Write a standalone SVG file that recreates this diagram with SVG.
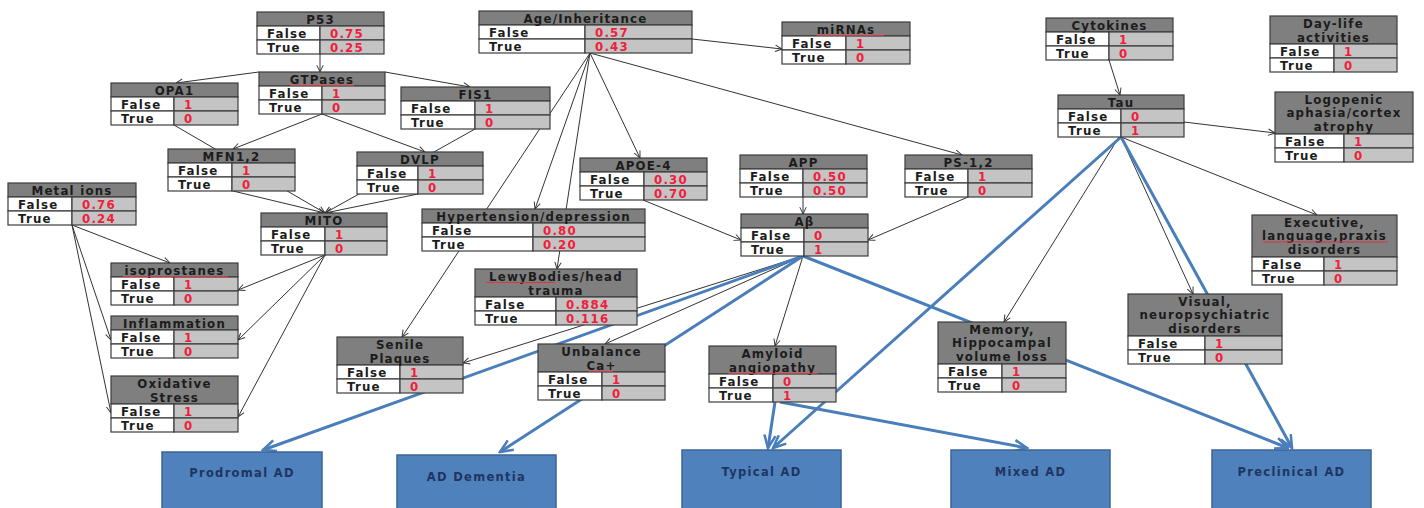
<svg xmlns="http://www.w3.org/2000/svg" width="1424" height="508" viewBox="0 0 1424 508">
<defs>
<style>
.hd{fill:#7f7f7f;stroke:#3c3c3c;stroke-width:1.2}
.lc{fill:#ffffff;stroke:#3c3c3c;stroke-width:1.2}
.rc{fill:#c4c4c4;stroke:#3c3c3c;stroke-width:1.2}
text{font-family:"DejaVu Sans","Liberation Sans",sans-serif;font-weight:bold;font-size:11.8px;letter-spacing:1.2px}
.t{fill:#1c1c1c;text-anchor:middle}
.s{fill:#1c1c1c}
.v{fill:#f0203c}
.e{fill:none;stroke:#333333;stroke-width:1;marker-end:url(#ah)}
.b{fill:none;stroke:#4a7ebb;stroke-width:3;marker-end:url(#bh)}
.ob{fill:#4f81bd;stroke:#3b6496;stroke-width:1.5}
.ot{fill:#1f3560;text-anchor:middle;font-size:11.5px;letter-spacing:1.3px}
.sq{fill:none;stroke:#dd3344;stroke-width:1}
</style>
<marker id="ah" viewBox="0 0 10 10" refX="9.5" refY="5" markerWidth="8" markerHeight="8" markerUnits="userSpaceOnUse" orient="auto">
<path d="M1,1 L9.5,5 L1,9" fill="none" stroke="#333333" stroke-width="1.2"/>
</marker>
<marker id="bh" viewBox="0 0 10 10" refX="9" refY="5" markerWidth="16" markerHeight="16" markerUnits="userSpaceOnUse" orient="auto">
<path d="M1,1.5 L9,5 L1,8.5" fill="none" stroke="#4a7ebb" stroke-width="1.6"/>
</marker>
</defs>
<rect x="0" y="0" width="1424" height="508" fill="#ffffff"/>

<!-- connectors (drawn first so the tables sit on top) -->
<g id="connectors">
<path class="e" d="M320,54 L320,72"/>
<path class="e" d="M259,72 L176,83"/>
<path class="e" d="M385,72 L470,87"/>
<path class="e" d="M322,114 L233,149"/>
<path class="e" d="M322,114 L425,152"/>
<path class="e" d="M174,125 L325,213"/>
<path class="e" d="M475,129 L325,213"/>
<path class="e" d="M233,191 L325,213"/>
<path class="e" d="M418,194 L325,213"/>
<path class="e" d="M72,225 L170,263"/>
<path class="e" d="M72,225 L111,340"/>
<path class="e" d="M72,225 L111,413"/>
<path class="e" d="M325,255 L238,290"/>
<path class="e" d="M325,255 L238,340"/>
<path class="e" d="M325,255 L238,417"/>
<path class="e" d="M692,39 L782,49"/>
<path class="e" d="M590,53 L962,155"/>
<path class="e" d="M590,53 L640,158"/>
<path class="e" d="M590,53 L535,209"/>
<path class="e" d="M590,53 L402,337"/>
<path class="e" d="M590,53 L557,269"/>
<path class="e" d="M643,200 L741,240"/>
<path class="e" d="M803,197 L803,214"/>
<path class="e" d="M968,197 L868,240"/>
<path class="e" d="M803,256 L775,346"/>
<path class="e" d="M803,256 L605,344"/>
<path class="e" d="M803,256 L463,363"/>
<path class="e" d="M1109,60 L1120,95"/>
<path class="e" d="M1184,122 L1275,133"/>
<path class="e" d="M1121,137 L1317,215"/>
<path class="e" d="M1121,137 L1193,294"/>
<path class="e" d="M1119,137 L1004,322"/>
<path class="b" d="M803,256 L263,450"/>
<path class="b" d="M803,256 L500,452"/>
<path class="b" d="M803,256 L1288,448"/>
<path class="b" d="M1121,137 L773,448"/>
<path class="b" d="M1121,137 L1292,448"/>
<path class="b" d="M775,402 L768,448"/>
<path class="b" d="M780,402 L1027,448"/>
</g>

<g id="p53">
<rect class="hd" x="257" y="12" width="127" height="14"/>
<rect class="lc" x="257" y="26" width="63" height="14"/><rect class="rc" x="320" y="26" width="64" height="14"/>
<rect class="lc" x="257" y="40" width="63" height="14"/><rect class="rc" x="320" y="40" width="64" height="14"/>
<text class="t" x="320.5" y="23.5">P53</text>
<text class="s" x="267" y="37.5">False</text><text class="v" x="330" y="37.5">0.75</text>
<text class="s" x="267" y="51.5">True</text><text class="v" x="330" y="51.5">0.25</text>
</g>

<g id="gtpases">
<rect class="hd" x="259" y="72" width="126" height="14"/>
<rect class="lc" x="259" y="86" width="63" height="14"/><rect class="rc" x="322" y="86" width="63" height="14"/>
<rect class="lc" x="259" y="100" width="63" height="14"/><rect class="rc" x="322" y="100" width="63" height="14"/>
<text class="t" x="322" y="83.5">GTPases</text>
<path class="sq" d="M290,85.5 L354,85.5"/>
<text class="s" x="269" y="97.5">False</text><text class="v" x="332" y="97.5">1</text>
<text class="s" x="269" y="111.5">True</text><text class="v" x="332" y="111.5">0</text>
</g>

<g id="opa1">
<rect class="hd" x="111" y="83" width="127" height="14"/>
<rect class="lc" x="111" y="97" width="63" height="14"/><rect class="rc" x="174" y="97" width="64" height="14"/>
<rect class="lc" x="111" y="111" width="63" height="14"/><rect class="rc" x="174" y="111" width="64" height="14"/>
<text class="t" x="174.5" y="94.5">OPA1</text>
<text class="s" x="121" y="108.5">False</text><text class="v" x="184" y="108.5">1</text>
<text class="s" x="121" y="122.5">True</text><text class="v" x="184" y="122.5">0</text>
</g>

<g id="fis1">
<rect class="hd" x="401" y="87" width="149" height="14"/>
<rect class="lc" x="401" y="101" width="74" height="14"/><rect class="rc" x="475" y="101" width="75" height="14"/>
<rect class="lc" x="401" y="115" width="74" height="14"/><rect class="rc" x="475" y="115" width="75" height="14"/>
<text class="t" x="475.5" y="98.5">FIS1</text>
<text class="s" x="411" y="112.5">False</text><text class="v" x="485" y="112.5">1</text>
<text class="s" x="411" y="126.5">True</text><text class="v" x="485" y="126.5">0</text>
</g>

<g id="mfn12">
<rect class="hd" x="168" y="149" width="127" height="14"/>
<rect class="lc" x="168" y="163" width="64" height="14"/><rect class="rc" x="232" y="163" width="63" height="14"/>
<rect class="lc" x="168" y="177" width="64" height="14"/><rect class="rc" x="232" y="177" width="63" height="14"/>
<text class="t" x="231.5" y="160.5">MFN1,2</text>
<text class="s" x="178" y="174.5">False</text><text class="v" x="242" y="174.5">1</text>
<text class="s" x="178" y="188.5">True</text><text class="v" x="242" y="188.5">0</text>
</g>

<g id="dvlp">
<rect class="hd" x="357" y="152" width="126" height="14"/>
<rect class="lc" x="357" y="166" width="61" height="14"/><rect class="rc" x="418" y="166" width="65" height="14"/>
<rect class="lc" x="357" y="180" width="61" height="14"/><rect class="rc" x="418" y="180" width="65" height="14"/>
<text class="t" x="420" y="163.5">DVLP</text>
<text class="s" x="367" y="177.5">False</text><text class="v" x="428" y="177.5">1</text>
<text class="s" x="367" y="191.5">True</text><text class="v" x="428" y="191.5">0</text>
</g>

<g id="mito">
<rect class="hd" x="261" y="213" width="126" height="14"/>
<rect class="lc" x="261" y="227" width="64" height="14"/><rect class="rc" x="325" y="227" width="62" height="14"/>
<rect class="lc" x="261" y="241" width="64" height="14"/><rect class="rc" x="325" y="241" width="62" height="14"/>
<text class="t" x="324" y="224.5">MITO</text>
<text class="s" x="271" y="238.5">False</text><text class="v" x="335" y="238.5">1</text>
<text class="s" x="271" y="252.5">True</text><text class="v" x="335" y="252.5">0</text>
</g>

<g id="metal-ions">
<rect class="hd" x="8" y="183" width="128" height="14"/>
<rect class="lc" x="8" y="197" width="64" height="14"/><rect class="rc" x="72" y="197" width="64" height="14"/>
<rect class="lc" x="8" y="211" width="64" height="14"/><rect class="rc" x="72" y="211" width="64" height="14"/>
<text class="t" x="72" y="194.5">Metal ions</text>
<text class="s" x="18" y="208.5">False</text><text class="v" x="82" y="208.5">0.76</text>
<text class="s" x="18" y="222.5">True</text><text class="v" x="82" y="222.5">0.24</text>
</g>

<g id="isoprostanes">
<rect class="hd" x="111" y="263" width="127" height="14"/>
<rect class="lc" x="111" y="277" width="63" height="14"/><rect class="rc" x="174" y="277" width="64" height="14"/>
<rect class="lc" x="111" y="291" width="63" height="14"/><rect class="rc" x="174" y="291" width="64" height="14"/>
<text class="t" x="174.5" y="274.5">isoprostanes</text>
<path class="sq" d="M123,276.5 L228,276.5"/>
<text class="s" x="121" y="288.5">False</text><text class="v" x="184" y="288.5">1</text>
<text class="s" x="121" y="302.5">True</text><text class="v" x="184" y="302.5">0</text>
</g>

<g id="inflammation">
<rect class="hd" x="111" y="316" width="127" height="14"/>
<rect class="lc" x="111" y="330" width="63" height="14"/><rect class="rc" x="174" y="330" width="64" height="14"/>
<rect class="lc" x="111" y="344" width="63" height="14"/><rect class="rc" x="174" y="344" width="64" height="14"/>
<text class="t" x="174.5" y="327.5">Inflammation</text>
<text class="s" x="121" y="341.5">False</text><text class="v" x="184" y="341.5">1</text>
<text class="s" x="121" y="355.5">True</text><text class="v" x="184" y="355.5">0</text>
</g>

<g id="oxidative-stress">
<rect class="hd" x="111" y="376" width="127" height="28"/>
<rect class="lc" x="111" y="404" width="63" height="14"/><rect class="rc" x="174" y="404" width="64" height="14"/>
<rect class="lc" x="111" y="418" width="63" height="14"/><rect class="rc" x="174" y="418" width="64" height="14"/>
<text class="t" x="174.5" y="387.5">Oxidative</text>
<text class="t" x="174.5" y="401.5">Stress</text>
<text class="s" x="121" y="415.5">False</text><text class="v" x="184" y="415.5">1</text>
<text class="s" x="121" y="429.5">True</text><text class="v" x="184" y="429.5">0</text>
</g>

<g id="age-inheritance">
<rect class="hd" x="479" y="11" width="213" height="14"/>
<rect class="lc" x="479" y="25" width="106" height="14"/><rect class="rc" x="585" y="25" width="107" height="14"/>
<rect class="lc" x="479" y="39" width="106" height="14"/><rect class="rc" x="585" y="39" width="107" height="14"/>
<text class="t" x="585.5" y="22.5">Age/Inheritance</text>
<text class="s" x="489" y="36.5">False</text><text class="v" x="595" y="36.5">0.57</text>
<text class="s" x="489" y="50.5">True</text><text class="v" x="595" y="50.5">0.43</text>
</g>

<g id="mirnas">
<rect class="hd" x="782" y="22" width="128" height="14"/>
<rect class="lc" x="782" y="36" width="64" height="14"/><rect class="rc" x="846" y="36" width="64" height="14"/>
<rect class="lc" x="782" y="50" width="64" height="14"/><rect class="rc" x="846" y="50" width="64" height="14"/>
<text class="t" x="846" y="33.5">miRNAs</text>
<path class="sq" d="M817,35.5 L884,35.5"/>
<text class="s" x="792" y="47.5">False</text><text class="v" x="856" y="47.5">1</text>
<text class="s" x="792" y="61.5">True</text><text class="v" x="856" y="61.5">0</text>
</g>

<g id="hypertension">
<rect class="hd" x="422" y="209" width="223" height="14"/>
<rect class="lc" x="422" y="223" width="111" height="14"/><rect class="rc" x="533" y="223" width="112" height="14"/>
<rect class="lc" x="422" y="237" width="111" height="14"/><rect class="rc" x="533" y="237" width="112" height="14"/>
<text class="t" x="533.5" y="220.5">Hypertension/depression</text>
<text class="s" x="432" y="234.5">False</text><text class="v" x="543" y="234.5">0.80</text>
<text class="s" x="432" y="248.5">True</text><text class="v" x="543" y="248.5">0.20</text>
</g>

<g id="lewybodies">
<rect class="hd" x="475" y="269" width="162" height="28"/>
<rect class="lc" x="475" y="297" width="81" height="14"/><rect class="rc" x="556" y="297" width="81" height="14"/>
<rect class="lc" x="475" y="311" width="81" height="14"/><rect class="rc" x="556" y="311" width="81" height="14"/>
<text class="t" x="556" y="280.5">LewyBodies/head</text>
<text class="t" x="556" y="294.5">trauma</text>
<path class="sq" d="M486,282.5 L555,282.5"/>
<text class="s" x="485" y="308.5">False</text><text class="v" x="566" y="308.5">0.884</text>
<text class="s" x="485" y="322.5">True</text><text class="v" x="566" y="322.5">0.116</text>
</g>

<g id="apoe4">
<rect class="hd" x="580" y="158" width="127" height="14"/>
<rect class="lc" x="580" y="172" width="64" height="14"/><rect class="rc" x="644" y="172" width="63" height="14"/>
<rect class="lc" x="580" y="186" width="64" height="14"/><rect class="rc" x="644" y="186" width="63" height="14"/>
<text class="t" x="643.5" y="169.5">APOE-4</text>
<text class="s" x="590" y="183.5">False</text><text class="v" x="654" y="183.5">0.30</text>
<text class="s" x="590" y="197.5">True</text><text class="v" x="654" y="197.5">0.70</text>
</g>

<g id="app">
<rect class="hd" x="740" y="155" width="127" height="14"/>
<rect class="lc" x="740" y="169" width="63" height="14"/><rect class="rc" x="803" y="169" width="64" height="14"/>
<rect class="lc" x="740" y="183" width="63" height="14"/><rect class="rc" x="803" y="183" width="64" height="14"/>
<text class="t" x="803.5" y="166.5">APP</text>
<text class="s" x="750" y="180.5">False</text><text class="v" x="813" y="180.5">0.50</text>
<text class="s" x="750" y="194.5">True</text><text class="v" x="813" y="194.5">0.50</text>
</g>

<g id="abeta">
<rect class="hd" x="741" y="214" width="127" height="14"/>
<rect class="lc" x="741" y="228" width="63" height="14"/><rect class="rc" x="804" y="228" width="64" height="14"/>
<rect class="lc" x="741" y="242" width="63" height="14"/><rect class="rc" x="804" y="242" width="64" height="14"/>
<text class="t" x="804.5" y="225.5">Aβ</text>
<text class="s" x="751" y="239.5">False</text><text class="v" x="814" y="239.5">0</text>
<text class="s" x="751" y="253.5">True</text><text class="v" x="814" y="253.5">1</text>
</g>

<g id="ps12">
<rect class="hd" x="905" y="155" width="127" height="14"/>
<rect class="lc" x="905" y="169" width="63" height="14"/><rect class="rc" x="968" y="169" width="64" height="14"/>
<rect class="lc" x="905" y="183" width="63" height="14"/><rect class="rc" x="968" y="183" width="64" height="14"/>
<text class="t" x="968.5" y="166.5">PS-1,2</text>
<text class="s" x="915" y="180.5">False</text><text class="v" x="978" y="180.5">1</text>
<text class="s" x="915" y="194.5">True</text><text class="v" x="978" y="194.5">0</text>
</g>

<g id="senile-plaques">
<rect class="hd" x="337" y="337" width="126" height="28"/>
<rect class="lc" x="337" y="365" width="63" height="14"/><rect class="rc" x="400" y="365" width="63" height="14"/>
<rect class="lc" x="337" y="379" width="63" height="14"/><rect class="rc" x="400" y="379" width="63" height="14"/>
<text class="t" x="400" y="348.5">Senile</text>
<text class="t" x="400" y="362.5">Plaques</text>
<text class="s" x="347" y="376.5">False</text><text class="v" x="410" y="376.5">1</text>
<text class="s" x="347" y="390.5">True</text><text class="v" x="410" y="390.5">0</text>
</g>

<g id="unbalance-ca">
<rect class="hd" x="538" y="344" width="127" height="28"/>
<rect class="lc" x="538" y="372" width="64" height="14"/><rect class="rc" x="602" y="372" width="63" height="14"/>
<rect class="lc" x="538" y="386" width="64" height="14"/><rect class="rc" x="602" y="386" width="63" height="14"/>
<text class="t" x="601.5" y="355.5">Unbalance</text>
<text class="t" x="601.5" y="369.5">Ca+</text>
<path class="sq" d="M589,371.5 L613,371.5"/>
<text class="s" x="548" y="383.5">False</text><text class="v" x="612" y="383.5">1</text>
<text class="s" x="548" y="397.5">True</text><text class="v" x="612" y="397.5">0</text>
</g>

<g id="amyloid-angiopathy">
<rect class="hd" x="709" y="346" width="127" height="28"/>
<rect class="lc" x="709" y="374" width="64" height="14"/><rect class="rc" x="773" y="374" width="63" height="14"/>
<rect class="lc" x="709" y="388" width="64" height="14"/><rect class="rc" x="773" y="388" width="63" height="14"/>
<text class="t" x="772.5" y="357.5">Amyloid</text>
<text class="t" x="772.5" y="371.5">angiopathy</text>
<path class="sq" d="M728,373.5 L818,373.5"/>
<text class="s" x="719" y="385.5">False</text><text class="v" x="783" y="385.5">0</text>
<text class="s" x="719" y="399.5">True</text><text class="v" x="783" y="399.5">1</text>
</g>

<g id="memory">
<rect class="hd" x="938" y="322" width="128" height="42"/>
<rect class="lc" x="938" y="364" width="64" height="14"/><rect class="rc" x="1002" y="364" width="64" height="14"/>
<rect class="lc" x="938" y="378" width="64" height="14"/><rect class="rc" x="1002" y="378" width="64" height="14"/>
<text class="t" x="1002" y="333.5">Memory,</text>
<text class="t" x="1002" y="347">Hippocampal</text>
<text class="t" x="1002" y="360.5">volume loss</text>
<text class="s" x="948" y="375.5">False</text><text class="v" x="1012" y="375.5">1</text>
<text class="s" x="948" y="389.5">True</text><text class="v" x="1012" y="389.5">0</text>
</g>

<g id="visual">
<rect class="hd" x="1128" y="294" width="154" height="42"/>
<rect class="lc" x="1128" y="336" width="77" height="14"/><rect class="rc" x="1205" y="336" width="77" height="14"/>
<rect class="lc" x="1128" y="350" width="77" height="14"/><rect class="rc" x="1205" y="350" width="77" height="14"/>
<text class="t" x="1205" y="305.5">Visual,</text>
<text class="t" x="1205" y="319">neuropsychiatric</text>
<text class="t" x="1205" y="332.5">disorders</text>
<text class="s" x="1138" y="347.5">False</text><text class="v" x="1215" y="347.5">1</text>
<text class="s" x="1138" y="361.5">True</text><text class="v" x="1215" y="361.5">0</text>
</g>

<g id="cytokines">
<rect class="hd" x="1046" y="18" width="127" height="14"/>
<rect class="lc" x="1046" y="32" width="63" height="14"/><rect class="rc" x="1109" y="32" width="64" height="14"/>
<rect class="lc" x="1046" y="46" width="63" height="14"/><rect class="rc" x="1109" y="46" width="64" height="14"/>
<text class="t" x="1109.5" y="29.5">Cytokines</text>
<text class="s" x="1056" y="43.5">False</text><text class="v" x="1119" y="43.5">1</text>
<text class="s" x="1056" y="57.5">True</text><text class="v" x="1119" y="57.5">0</text>
</g>

<g id="day-life">
<rect class="hd" x="1270" y="16" width="127" height="28"/>
<rect class="lc" x="1270" y="44" width="64" height="14"/><rect class="rc" x="1334" y="44" width="63" height="14"/>
<rect class="lc" x="1270" y="58" width="64" height="14"/><rect class="rc" x="1334" y="58" width="63" height="14"/>
<text class="t" x="1333.5" y="27.5">Day-life</text>
<text class="t" x="1333.5" y="41.5">activities</text>
<text class="s" x="1280" y="55.5">False</text><text class="v" x="1344" y="55.5">1</text>
<text class="s" x="1280" y="69.5">True</text><text class="v" x="1344" y="69.5">0</text>
</g>

<g id="tau">
<rect class="hd" x="1058" y="95" width="126" height="14"/>
<rect class="lc" x="1058" y="109" width="63" height="14"/><rect class="rc" x="1121" y="109" width="63" height="14"/>
<rect class="lc" x="1058" y="123" width="63" height="14"/><rect class="rc" x="1121" y="123" width="63" height="14"/>
<text class="t" x="1121" y="106.5">Tau</text>
<text class="s" x="1068" y="120.5">False</text><text class="v" x="1131" y="120.5">0</text>
<text class="s" x="1068" y="134.5">True</text><text class="v" x="1131" y="134.5">1</text>
</g>

<g id="logopenic">
<rect class="hd" x="1275" y="92" width="138" height="42"/>
<rect class="lc" x="1275" y="134" width="69" height="14"/><rect class="rc" x="1344" y="134" width="69" height="14"/>
<rect class="lc" x="1275" y="148" width="69" height="14"/><rect class="rc" x="1344" y="148" width="69" height="14"/>
<text class="t" x="1344" y="103.5">Logopenic</text>
<text class="t" x="1344" y="117">aphasia/cortex</text>
<text class="t" x="1344" y="130.5">atrophy</text>
<text class="s" x="1285" y="145.5">False</text><text class="v" x="1354" y="145.5">1</text>
<text class="s" x="1285" y="159.5">True</text><text class="v" x="1354" y="159.5">0</text>
</g>

<g id="executive">
<rect class="hd" x="1252" y="215" width="145" height="42"/>
<rect class="lc" x="1252" y="257" width="72" height="14"/><rect class="rc" x="1324" y="257" width="73" height="14"/>
<rect class="lc" x="1252" y="271" width="72" height="14"/><rect class="rc" x="1324" y="271" width="73" height="14"/>
<text class="t" x="1324.5" y="226.5">Executive,</text>
<text class="t" x="1324.5" y="240">language,praxis</text>
<text class="t" x="1324.5" y="253.5">disorders</text>
<path class="sq" d="M1263,242 L1388,242"/>
<text class="s" x="1262" y="268.5">False</text><text class="v" x="1334" y="268.5">1</text>
<text class="s" x="1262" y="282.5">True</text><text class="v" x="1334" y="282.5">0</text>
</g>

<!-- diagnostic outcome boxes -->
<g id="prodromal-ad">
<rect class="ob" x="162" y="452" width="160" height="62"/>
<text class="ot" x="242" y="477">Prodromal AD</text>
</g>
<g id="ad-dementia">
<rect class="ob" x="397" y="455" width="159" height="62"/>
<text class="ot" x="476.5" y="481">AD Dementia</text>
</g>
<g id="typical-ad">
<rect class="ob" x="682" y="450" width="159" height="62"/>
<text class="ot" x="761.5" y="476">Typical AD</text>
</g>
<g id="mixed-ad">
<rect class="ob" x="951" y="450" width="159" height="62"/>
<text class="ot" x="1030.5" y="476">Mixed AD</text>
</g>
<g id="preclinical-ad">
<rect class="ob" x="1212" y="450" width="159" height="62"/>
<text class="ot" x="1291.5" y="476">Preclinical AD</text>
</g>
</svg>
